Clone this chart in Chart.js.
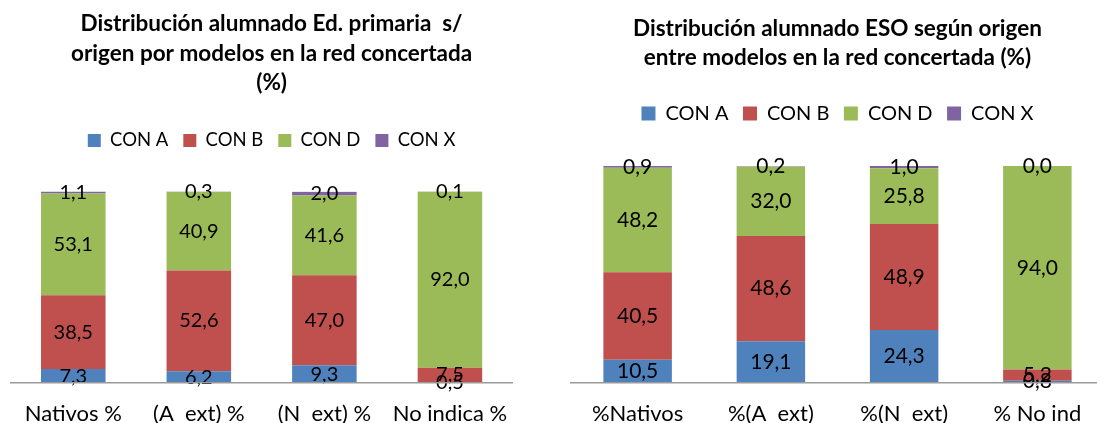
<html>
<head>
<meta charset="utf-8">
<title>Distribución alumnado red concertada</title>
<style>
html, body {
  margin:0px;
  overflow:hidden;
  background:#ffffff;
}
canvas { position:absolute; top:0px; }
</style>
<script src="https://cdn.jsdelivr.net/npm/chart.js@4/dist/chart.umd.min.js"></script>
</head>
<body>
<canvas id="primaria" width="548" height="450" style="left:0px"></canvas>
<canvas id="eso" width="570" height="450" style="left:548px"></canvas>
<script>
// Ed. primaria (left chart)
const primariaLabels = ['Nativos %', '(A  ext) %', '(N  ext) %', 'No indica %'];
const primariaConA = [7.3, 6.2, 9.3, 0.5];
const primariaConB = [38.5, 52.6, 47.0, 7.5];
const primariaConD = [53.1, 40.9, 41.6, 92.0];
const primariaConX = [1.1, 0.3, 2.0, 0.1];

// ESO (right chart)
const esoLabels = ['%Nativos', '%(A  ext)', '%(N  ext)', '% No ind'];
const esoConA = [10.5, 19.1, 24.3, 0.8];
const esoConB = [40.5, 48.6, 48.9, 5.2];
const esoConD = [48.2, 32.0, 25.8, 94.0];
const esoConX = [0.9, 0.2, 1.0, 0.0];

const seriesNames = ['CON A', 'CON B', 'CON D', 'CON X'];
const seriesColors = ['#4F81BD', '#C0504D', '#9BBB59', '#8064A2'];

Chart.defaults.font.family = 'Lato';
Chart.defaults.color = '#000000';

// writes the value in the middle of every bar piece, like excel does
const barValues = {
  id: 'barValues',
  afterDatasetsDraw(chart, args, opts) {
    const ctx = chart.ctx;
    ctx.save();
    ctx.font = opts.size + 'px Lato';
    ctx.fillStyle = '#000000';
    ctx.textAlign = 'center';
    ctx.textBaseline = 'middle';
    chart.data.datasets.forEach((ds, i) => {
      chart.getDatasetMeta(i).data.forEach((bar, j) => {
        const txt = ds.data[j].toFixed(1).replace('.', ',');
        ctx.fillText(txt, bar.x, (bar.y + bar.base) / 2);
      });
    });
    ctx.restore();
  }
};

// extra room under the legend
const legendGap = {
  id: 'legendGap',
  beforeInit(chart, args, opts) {
    const fit = chart.legend.fit;
    chart.legend.fit = function() {
      fit.bind(chart.legend)();
      this.height += opts.gap;
    };
  }
};

function makeChart(id, labels, a, b, d, x, cfg) {
  const values = [a, b, d, x];
  return new Chart(document.getElementById(id), {
    type: 'bar',
    data: {
      labels: labels,
      datasets: values.map((v, i) => ({
        label: seriesNames[i],
        data: v,
        backgroundColor: seriesColors[i],
        borderWidth: 0,
        categoryPercentage: 1.0,
        barPercentage: 0.514
      }))
    },
    options: {
      responsive: false,
      animation: false,
      layout: { padding: cfg.pad },
      scales: {
        x: {
          stacked: true,
          grid: { display: false, drawTicks: false },
          border: { display: true, color: '#9a9a9a', width: 1.5, z: 1 },
          ticks: { font: { size: 22, lineHeight: 1.2 }, padding: 18, color: '#000000' }
        },
        y: {
          stacked: true,
          display: cfg.rightSpace > 0,
          position: 'right',
          min: 0,
          max: 100,
          grid: { display: false },
          border: { display: false },
          ticks: { display: false },
          afterFit: s => { s.width = cfg.rightSpace; }
        }
      },
      plugins: {
        title: {
          display: true,
          text: cfg.title,
          font: { size: 22.5, weight: 'bold', lineHeight: 1.3 },
          padding: cfg.titlePad,
          color: '#000000'
        },
        legend: {
          position: 'top',
          labels: { boxWidth: cfg.legendBox, boxHeight: cfg.legendBox, padding: cfg.legendPad,
                    font: { size: cfg.legendFont }, color: '#000000' }
        },
        legendGap: { gap: cfg.gap },
        barValues: { size: cfg.valueFont },
        tooltip: { enabled: false }
      }
    },
    plugins: [barValues, legendGap]
  });
}

makeChart('primaria', primariaLabels, primariaConA, primariaConB, primariaConD, primariaConX, {
  title: ['Distribución alumnado Ed. primaria  s/', 'origen por modelos en la red concertada', '(%)'],
  titlePad: { top: 9.4, bottom: 19.1 },
  legendFont: 18.5, legendBox: 13, legendPad: 15, gap: 31.75,
  valueFont: 20,
  pad: { left: 10.5, right: 15.3, top: 0, bottom: 4.5 },
  rightSpace: 20
});

makeChart('eso', esoLabels, esoConA, esoConB, esoConD, esoConX, {
  title: ['Distribución alumnado ESO según origen', 'entre modelos en la red concertada (%)'],
  titlePad: { top: 13.9, bottom: 16.6 },
  legendFont: 20, legendBox: 14, legendPad: 14.5, gap: 32.5,
  valueFont: 21,
  pad: { left: 23, right: 14, top: 0, bottom: 5 },
  rightSpace: 0
});
</script>
</body>
</html>
